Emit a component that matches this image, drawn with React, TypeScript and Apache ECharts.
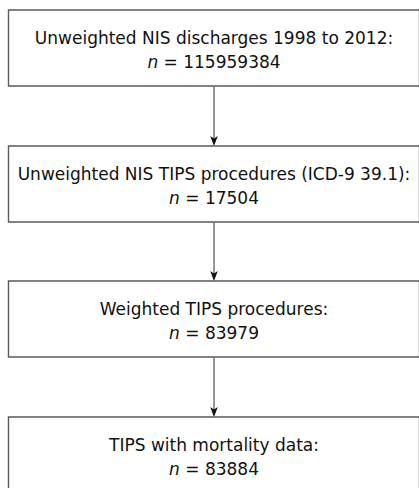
import React, { useEffect, useRef } from "react";
import * as echarts from "echarts";

const boxTitles = [
  "Unweighted NIS discharges 1998 to 2012:",
  "Unweighted NIS TIPS procedures (ICD-9 39.1):",
  "Weighted TIPS procedures:",
  "TIPS with mortality data:",
];
const boxCounts = [115959384, 17504, 83979, 83884];

const boxTops = [10, 146, 281, 417];
const boxHeight = 76;
const boxLeft = 8.5;
const boxWidth = 411;
const centerX = 214;
const FONT = "DejaVu Sans, Verdana, sans-serif";
const FS = 17;

export default function App() {
  const ref = useRef<HTMLDivElement>(null);
  useEffect(() => {
    document.body.style.margin = "0";
    const chart = echarts.init(ref.current!, undefined, { renderer: "svg" });
    const elements: any[] = [];
    boxTitles.forEach((title, i) => {
      const top = boxTops[i];
      elements.push({
        type: "rect",
        shape: { x: boxLeft, y: top, width: boxWidth, height: boxHeight },
        style: { fill: "#fff", stroke: "#5a5a5a", lineWidth: 1.4 },
      });
      elements.push({
        type: "text",
        x: centerX,
        y: top + 28,
        style: {
          text: title,
          fill: "#111",
          font: `${FS}px ${FONT}`,
          align: "center",
          verticalAlign: "middle",
        },
      });
      elements.push({
        type: "text",
        x: centerX,
        y: top + 52,
        style: {
          text: `{i|n} = ${boxCounts[i]}`,
          fill: "#111",
          font: `${FS}px ${FONT}`,
          align: "center",
          verticalAlign: "middle",
          rich: {
            i: { fontStyle: "italic", fontSize: FS, fontFamily: FONT, fill: "#111" },
          },
        },
      });
      if (i < boxTitles.length - 1) {
        const y1 = top + boxHeight;
        const y2 = boxTops[i + 1];
        elements.push({
          type: "line",
          shape: { x1: centerX, y1: y1, x2: centerX, y2: y2 - 6 },
          style: { stroke: "#6e6e6e", lineWidth: 1.4 },
        });
        elements.push({
          type: "polygon",
          shape: {
            points: [
              [centerX, y2],
              [centerX - 3.8, y2 - 10],
              [centerX, y2 - 7.5],
              [centerX + 3.8, y2 - 10],
            ],
          },
          style: { fill: "#111" },
        });
      }
    });
    chart.setOption({
      animation: false,
      backgroundColor: "#fff",
      graphic: { elements },
    });
    return () => chart.dispose();
  }, []);
  return (
    <div
      ref={ref}
      style={{ position: "absolute", left: 0, top: 0, width: 419, height: 488 }}
    />
  );
}
